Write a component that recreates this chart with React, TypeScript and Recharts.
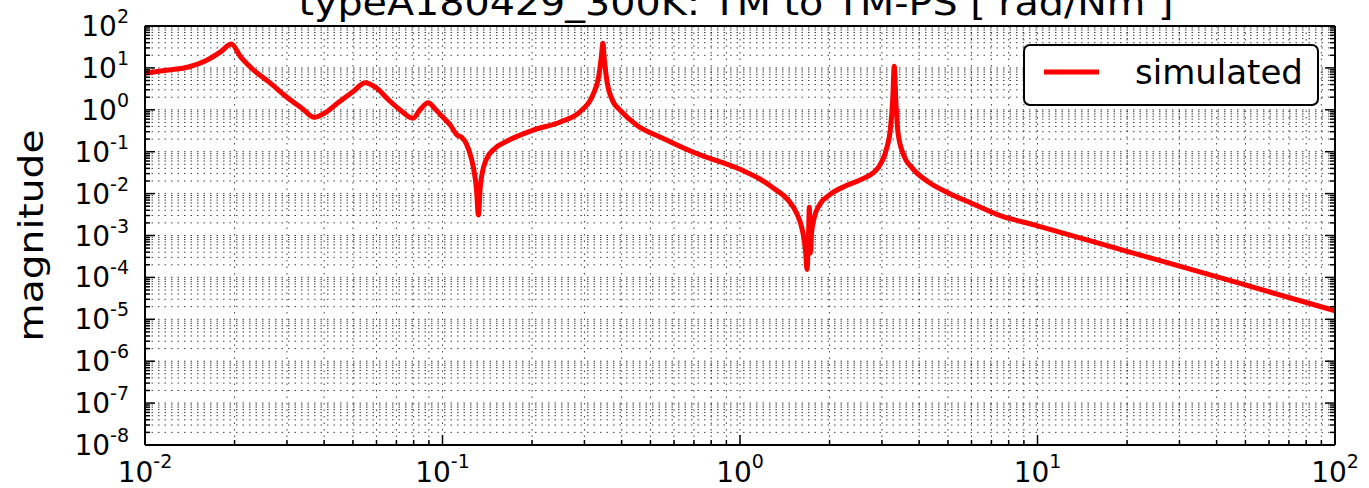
import React from 'react';
import { LineChart, Line, XAxis, YAxis, CartesianGrid, Legend, Label } from 'recharts';

const TITLE = 'typeA180429_300K: TM to TM-PS [ rad/Nm ]';
const Y_LABEL = 'magnitude';
const SERIES_NAME = 'simulated';

// frequency points
const freq = [
  0.01, 0.012, 0.014, 0.016, 0.018, 0.0195, 0.021, 0.023, 0.026, 0.03,
  0.034, 0.037, 0.04, 0.045, 0.05, 0.055, 0.06, 0.066, 0.072, 0.0796,
  0.084, 0.0895, 0.095, 0.1, 0.106, 0.112, 0.116, 0.12, 0.125, 0.128,
  0.13, 0.132, 0.134, 0.136, 0.14, 0.15, 0.165, 0.2, 0.25, 0.29,
  0.32, 0.335, 0.342, 0.346, 0.35, 0.358, 0.37, 0.4, 0.45, 0.55,
  0.7, 1.0, 1.17, 1.3, 1.45, 1.55, 1.62, 1.66, 1.68, 1.7,
  1.71, 1.725, 1.74, 1.78, 1.85, 2.0, 2.3, 2.6, 2.9, 3.1,
  3.2, 3.26, 3.3, 3.34, 3.4, 3.55, 3.8, 4.3, 5.0, 6.0,
  7.3, 10, 20, 50, 100,
];

const magnitude = [
  7.5, 8.9, 10.5, 14.8, 24.5, 37, 18, 9.3, 4.7, 2.0,
  1.03, 0.66, 0.82, 1.56, 2.7, 4.4, 3.3, 1.7, 0.99, 0.63,
  1.0, 1.48, 1.0, 0.68, 0.44, 0.25, 0.22, 0.16, 0.069, 0.031,
  0.0134, 0.0031, 0.0148, 0.031, 0.063, 0.12, 0.18, 0.32, 0.52, 0.9,
  2.25, 6.2, 18.6, 38.6, 15.4, 4.3, 1.88, 0.9, 0.43, 0.21,
  0.096, 0.038, 0.022, 0.0133, 0.0071, 0.0034, 0.00135, 0.00045, 0.000155, 0.0011,
  0.0047, 0.00038, 0.00115, 0.0028, 0.0054, 0.0093, 0.016, 0.023, 0.04, 0.11,
  0.33, 1.7, 11, 1.7, 0.27, 0.083, 0.04, 0.019, 0.0105, 0.0059,
  0.0032, 0.0017, 0.00042, 0.000066, 0.000016,
];

const xDecades = [-2, -1, 0, 1, 2];
const yDecades = [-8, -7, -6, -5, -4, -3, -2, -1, 0, 1, 2];

const data = freq.map((f, i) => ({ f, m: magnitude[i] }));

const FONT = '"DejaVu Sans", sans-serif';

// decade ticks plus the 2..9 minor ticks in between
const logTicks = (decades: number[]) => {
  const out: number[] = [];
  decades.forEach((d, i) => {
    if (i === decades.length - 1) {
      out.push(Math.pow(10, d));
      return;
    }
    for (let k = 1; k <= 9; k++) out.push(k * Math.pow(10, d));
  });
  return out;
};

const xTicks = logTicks(xDecades);
const yTicks = logTicks(yDecades);

const isMajor = (v: number) => Math.abs(Math.log10(v) - Math.round(Math.log10(v))) < 1e-9;
const exponent = (v: number) => String(Math.round(Math.log10(v)));
const tickLen = (v: number) => (isMajor(v) ? 10 : 5);

const BottomTick = ({ x, y, payload }: any) => {
  const v = payload.value;
  return (
    <g>
      <line x1={x} x2={x} y1={y} y2={y - tickLen(v)} stroke="#000" strokeWidth={1.5} />
      {isMajor(v) && (
        <text x={x} y={y + 37} textAnchor="middle" fontFamily={FONT} fontSize={28} fill="#000">
          10<tspan dy={-14} fontSize={19}>{exponent(v)}</tspan>
        </text>
      )}
    </g>
  );
};

const TopTick = ({ x, y, payload }: any) => (
  <line x1={x} x2={x} y1={y} y2={y + tickLen(payload.value)} stroke="#000" strokeWidth={1.5} />
);

const LeftTick = ({ x, y, payload }: any) => {
  const v = payload.value;
  return (
    <g>
      <line x1={x} x2={x + tickLen(v)} y1={y} y2={y} stroke="#000" strokeWidth={1.5} />
      {isMajor(v) && (
        <text x={x - 16} y={y + 10} textAnchor="end" fontFamily={FONT} fontSize={28} fill="#000">
          10<tspan dy={-13} fontSize={19}>{exponent(v)}</tspan>
        </text>
      )}
    </g>
  );
};

const RightTick = ({ x, y, payload }: any) => (
  <line x1={x} x2={x - tickLen(payload.value)} y1={y} y2={y} stroke="#000" strokeWidth={1.5} />
);

const TitleLabel = ({ viewBox }: any) => {
  const vb = viewBox || { x: 145, width: 1190 };
  return (
    <text
      x={vb.x + vb.width / 2 - 4}
      y={15}
      textAnchor="middle"
      fontFamily={FONT}
      fontSize={36}
      fill="#000"
      textLength={875}
      lengthAdjust="spacingAndGlyphs"
    >
      {TITLE}
    </text>
  );
};

const YAxisLabel = ({ viewBox }: any) => {
  const vb = viewBox || { y: 26, height: 419 };
  const cx = 31;
  const cy = vb.y + vb.height / 2;
  return (
    <text
      x={cx}
      y={cy}
      transform={`rotate(-90, ${cx}, ${cy})`}
      textAnchor="middle"
      dominantBaseline="central"
      fontFamily={FONT}
      fontSize={34}
      fill="#000"
      textLength={212}
      lengthAdjust="spacingAndGlyphs"
    >
      {Y_LABEL}
    </text>
  );
};

const LegendBox = ({ payload }: any) => {
  const item = payload && payload[0];
  return (
    <div
      style={{
        boxSizing: 'border-box',
        width: 296,
        height: 62,
        border: '2px solid #000',
        borderRadius: 7,
        background: '#fff',
      }}
    >
      <svg width={292} height={58} style={{ display: 'block' }}>
        <line x1={19} x2={74} y1={26} y2={26} stroke={item ? item.color : '#ff0000'} strokeWidth={5} />
        <text x={110} y={38} fontFamily={FONT} fontSize={34} fill="#000">
          {item ? item.value : SERIES_NAME}
        </text>
      </svg>
    </div>
  );
};

const axisLine = { stroke: '#000', strokeWidth: 2 };

export default function App() {
  return (
    <div style={{ position: 'absolute', left: 0, top: 0, background: '#fff' }}>
      <LineChart width={1369} height={488} data={data} margin={{ top: 0, right: 0, bottom: 0, left: 0 }}>
        <CartesianGrid stroke="#000" strokeWidth={1} strokeDasharray="1.5 5" strokeOpacity={0.75} />
        <XAxis
          dataKey="f"
          type="number"
          scale="log"
          domain={[0.01, 100]}
          allowDataOverflow
          ticks={xTicks}
          interval={0}
          tickSize={0}
          tickMargin={0}
          height={43}
          tickLine={false}
          axisLine={axisLine}
          tick={<BottomTick />}
        />
        <XAxis
          xAxisId="top"
          orientation="top"
          type="number"
          scale="log"
          domain={[0.01, 100]}
          allowDataOverflow
          ticks={xTicks}
          interval={0}
          tickSize={0}
          tickMargin={0}
          height={26}
          tickLine={false}
          axisLine={axisLine}
          tick={<TopTick />}
        >
          <Label content={<TitleLabel />} />
        </XAxis>
        <YAxis
          type="number"
          scale="log"
          domain={[1e-8, 100]}
          allowDataOverflow
          ticks={yTicks}
          interval={0}
          tickSize={0}
          tickMargin={0}
          width={145}
          tickLine={false}
          axisLine={axisLine}
          tick={<LeftTick />}
        >
          <Label content={<YAxisLabel />} />
        </YAxis>
        <YAxis
          yAxisId="right"
          orientation="right"
          type="number"
          scale="log"
          domain={[1e-8, 100]}
          allowDataOverflow
          ticks={yTicks}
          interval={0}
          tickSize={0}
          tickMargin={0}
          width={34}
          tickLine={false}
          axisLine={axisLine}
          tick={<RightTick />}
        />
        <Legend
          layout="horizontal"
          verticalAlign="middle"
          align="center"
          content={<LegendBox />}
          wrapperStyle={{ left: 1023, top: 44, width: 296, height: 62 }}
        />
        <Line
          type="monotoneX"
          dataKey="m"
          name={SERIES_NAME}
          stroke="#ff0000"
          strokeWidth={5}
          strokeLinejoin="round"
          dot={false}
          activeDot={false}
          isAnimationActive={false}
        />
      </LineChart>
    </div>
  );
}
